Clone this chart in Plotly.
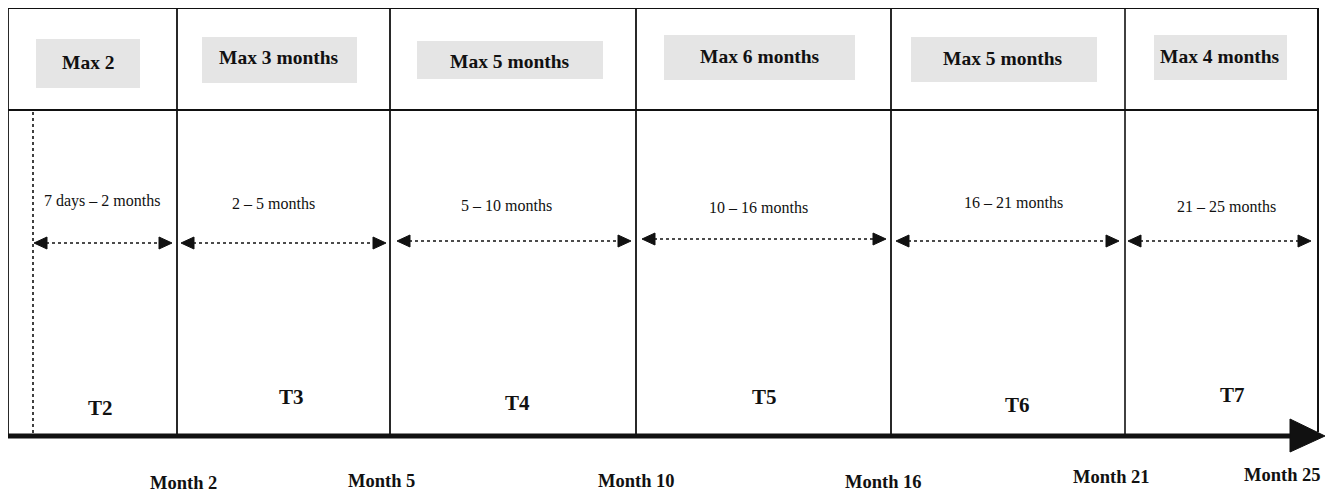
import plotly.graph_objects as go

# ---- data ----
periods = ["T2", "T3", "T4", "T5", "T6", "T7"]
max_months = [2, 3, 5, 6, 5, 4]
range_start = ["7 days", "2", "5", "10", "16", "21"]
range_end = [2, 5, 10, 16, 21, 25]
month_marks = [2, 5, 10, 16, 21, 25]

# ---- layout geometry (pixel space of the 1335x493 window) ----
W, H = 1335, 493
PAGE_MARGIN = 8  # default body margin of the html page
col_edges = [8, 177, 390, 636, 891, 1125, 1318]
top_y, head_y, axis_y = 8, 110, 436
max_boxes = [(36, 140, 39, 88), (202, 357, 37, 83), (417, 603, 41, 79),
             (664, 855, 35, 80), (911, 1097, 37, 82), (1154, 1287, 35, 80)]
max_text_pos = [(88, 62), (279, 57), (510, 61), (760, 56), (1003, 58), (1220, 56)]
range_text_pos = [(102, 201), (273, 203), (506, 205), (758, 207), (1013, 202), (1226, 206)]
arrow_x = [(34, 172), (181, 386), (397, 631), (642, 886), (896, 1119), (1128, 1311)]
arrow_y = [243, 243, 241, 239, 241, 241]
period_pos = [(100, 408), (291, 397), (517, 403), (764, 397), (1017, 405), (1232, 395)]
month_pos = [(183, 483), (381, 481), (636, 481), (883, 482), (1111, 477), (1282, 475)]

SERIF = "Liberation Serif, Times New Roman, serif"
INK = "#111111"

shapes = []
annotations = []


def line(x0, y0, x1, y1, width=2, dash=None):
    d = dict(type="line", xref="x", yref="y", x0=x0, y0=y0, x1=x1, y1=y1,
             line=dict(color=INK, width=width))
    if dash:
        d["line"]["dash"] = dash
    shapes.append(d)


def tri(points):
    path = "M " + " L ".join(f"{x},{y}" for x, y in points) + " Z"
    shapes.append(dict(type="path", xref="x", yref="y", path=path,
                       fillcolor=INK, line=dict(color=INK, width=1)))


# header grey boxes
for (x0, x1, y0, y1) in max_boxes:
    shapes.append(dict(type="rect", xref="x", yref="y", x0=x0, x1=x1, y0=y0, y1=y1,
                       fillcolor="#e5e5e5", line=dict(width=0), layer="below"))

# frame lines
line(col_edges[0], top_y, col_edges[-1], top_y, 2)
line(col_edges[0], head_y, col_edges[-1], head_y, 2)
for i, x in enumerate(col_edges):
    if i == len(col_edges) - 1:
        line(x, top_y, x, axis_y - 4, 2)
    elif i == 5:
        line(x, PAGE_MARGIN, x, axis_y, 1.6)
    else:
        line(x, top_y, x, axis_y, 1.8)

# dotted vertical start line
line(33, head_y + 2, 33, axis_y - 3, 1.6, "dot")

# time axis with arrow head
line(col_edges[0], axis_y, 1292, axis_y, 5)
tri([(1290, 419), (1325, 436), (1290, 452)])

# double arrows
for (xa, xb), y in zip(arrow_x, arrow_y):
    line(xa + 12, y, xb - 12, y, 1.6, "dot")
    tri([(xa, y), (xa + 13, y - 6), (xa + 13, y + 6)])
    tri([(xb, y), (xb - 13, y - 6), (xb - 13, y + 6)])


def txt(x, y, s, size, bold=False):
    annotations.append(dict(x=x, y=y, xref="x", yref="y", showarrow=False,
                            text=f"<b>{s}</b>" if bold else s,
                            font=dict(family=SERIF, size=size, color=INK),
                            xanchor="center", yanchor="middle"))


for i, m in enumerate(max_months):
    label = f"Max {m}" if i == 0 else f"Max {m} months"
    txt(*max_text_pos[i], label, 19.5, True)

for i, (a, b) in enumerate(zip(range_start, range_end)):
    txt(*range_text_pos[i], f"{a} – {b} months", 16)

for i, p in enumerate(periods):
    txt(*period_pos[i], p, 21, True)

for i, m in enumerate(month_marks):
    txt(*month_pos[i], f"Month {m}", 18.5, True)

fig = go.Figure()
fig.update_layout(
    width=W - PAGE_MARGIN, height=H - PAGE_MARGIN,
    margin=dict(l=0, r=0, t=0, b=0, pad=0),
    paper_bgcolor="white", plot_bgcolor="white",
    xaxis=dict(range=[PAGE_MARGIN, W], visible=False, fixedrange=True),
    yaxis=dict(range=[H, PAGE_MARGIN], visible=False, fixedrange=True),
    shapes=shapes, annotations=annotations,
    showlegend=False,
)
fig.write_html("out.html", config={"displayModeBar": False})
